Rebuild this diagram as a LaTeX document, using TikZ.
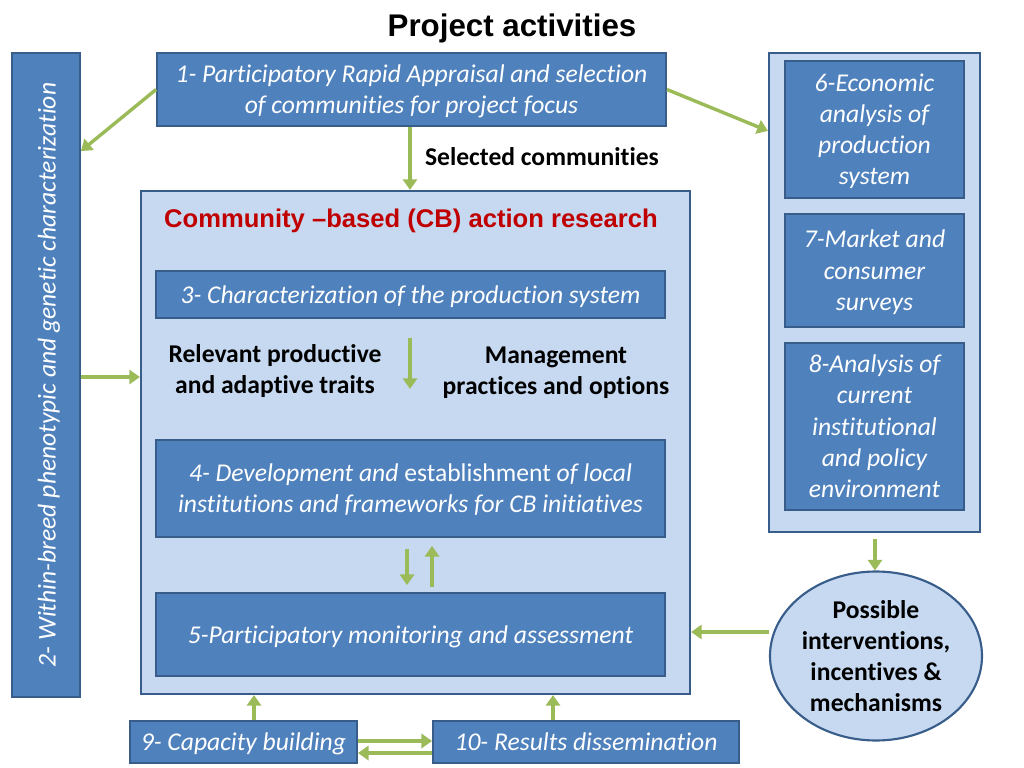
\documentclass[tikz,border=0pt]{standalone}
\usepackage{fontspec}
\setmainfont{Carlito}[RawFeature={-liga}]
\newfontfamily\arialfont{Liberation Sans}
\usetikzlibrary{arrows.meta,calc,shapes.geometric}
\definecolor{dblue}{HTML}{4F81BD}
\definecolor{bordblue}{HTML}{385D8A}
\definecolor{lblue}{HTML}{C6D9F1}
\definecolor{agreen}{HTML}{9BBB59}
\definecolor{ared}{HTML}{C00000}
\tikzset{
  sz/.style 2 args={minimum width=#1*0.703125pt, minimum height=#2*0.703125pt},
  bluebox/.style={draw=bordblue, line width=1.3pt, fill=dblue, inner sep=2pt, text=white, align=center, font=\fontsize{18}{22}\selectfont\itshape, text depth=0.5pt},
  lightbox/.style={draw=bordblue, line width=1.5pt, fill=lblue, inner sep=0pt},
  blabel/.style={align=center, font=\fontsize{18}{21.7}\selectfont\bfseries},
  garrow/.style={draw=agreen, line width=2.4pt, -{Triangle[length=7.5pt,width=10pt]}},
}
\begin{document}
\begin{tikzpicture}[x=0.703125pt, y=-0.703125pt]
\useasboundingbox (0,0) rectangle (1024,768);
% title
\node[font=\arialfont\fontsize{22}{26}\selectfont\bfseries] (title) at (512,28) {Project activities};
% large containers
\node[lightbox, sz={549}{503}] (cb) at (415.5,442.5) {};
\node[lightbox, sz={211}{479}] (rb) at (874.5,292.5) {};
% boxes
\node[bluebox, sz={509}{73}] (b1) at (411.5,89.5) {1- Participatory Rapid Appraisal and selection\\of communities for project focus};
\node[bluebox, sz={68}{644}] (b2) at (46,375) {};
\node[rotate=90, text=white, font=\fontsize{18}{22}\selectfont\itshape] (b2t) at (49,375) {2- Within-breed phenotypic and genetic characterization};
\node[font=\arialfont\fontsize{18}{22}\selectfont\bfseries, text=ared] (cbt) at (411,221) {Community –based (CB) action research};
\node[bluebox, sz={509}{47}] (b3) at (410.5,294.5) {3- Characterization of the production system};
\node[blabel] (rel) at (275,371) {Relevant productive\\and adaptive traits};
\node[blabel] (man) at (556,373) {Management\\practices and options};
\node[bluebox, sz={509}{97}] (b4) at (410.5,488.5) {4- Development and \textup{establishment} of local\\institutions and frameworks for CB initiatives};
\node[bluebox, sz={509}{83}] (b5) at (410.5,634.5) {5-Participatory monitoring and assessment};
\node[bluebox, sz={179}{137}] (b6) at (874.5,129.5) {6-Economic\\analysis of\\production\\system};
\node[bluebox, sz={179}{113}] (b7) at (874.5,270.5) {7-Market and\\consumer\\surveys};
\node[bluebox, sz={179}{167}] (b8) at (874.5,426.5) {8-Analysis of\\current\\institutional\\and policy\\environment};
\node[ellipse, draw=bordblue, line width=1.5pt, fill=lblue, inner sep=0pt, sz={212}{169}, blabel] (el) at (876,656) {Possible\\interventions,\\incentives \&\\mechanisms};
\node[bluebox, sz={227}{42}] (b9) at (243.5,742) {9- Capacity building};
\node[bluebox, sz={306}{42}] (b10) at (586,742) {10- Results dissemination};
\node[blabel] (sel) at (542,157) {Selected communities};
% arrow end points
\coordinate (a1) at ($(b1.south)+(-1.5,0)$);
\coordinate (a2) at ($(b2.east)+(0,2)$);
\coordinate (a6) at ($(rb.south)+(0.5,6)$);
\coordinate (ael) at ($(el.west)+(0,-24)$);
\coordinate (a9) at ($(b9.north)+(10.5,0)$);
\coordinate (a10) at ($(b10.north)+(-33,0)$);
\coordinate (a910) at ($(b9.east)+(0,-1)$);
\coordinate (a109) at ($(b10.west)+(0,11)$);
% arrows
\draw[garrow] (b1.west) -- ($(b2.north east)+(0,99)$);
\draw[garrow] (b1.east) -- ($(rb.north west)+(0,79)$);
\draw[garrow] (a1) -- (a1 |- cb.north);
\draw[garrow] (a2) -- (a2 -| cb.west);
\draw[garrow] ($(b3.south)+(-0.5,19)$) -- ($(b3.south)+(-0.5,70)$);
\draw[garrow] ($(b4.south)+(-3.5,11)$) -- ($(b5.north)+(-3.5,-7)$);
\draw[garrow] ($(b5.north)+(21.5,-5)$) -- ($(b4.south)+(21.5,8)$);
\draw[garrow] (a6) -- (a6 |- el.north);
\draw[garrow] (ael) -- (ael -| cb.east);
\draw[garrow] (a9) -- (a9 |- cb.south);
\draw[garrow] (a10) -- (a10 |- cb.south);
\draw[garrow] (a910) -- (a910 -| b10.west);
\draw[garrow] (a109) -- (a109 -| b9.east);
\end{tikzpicture}
\end{document}
